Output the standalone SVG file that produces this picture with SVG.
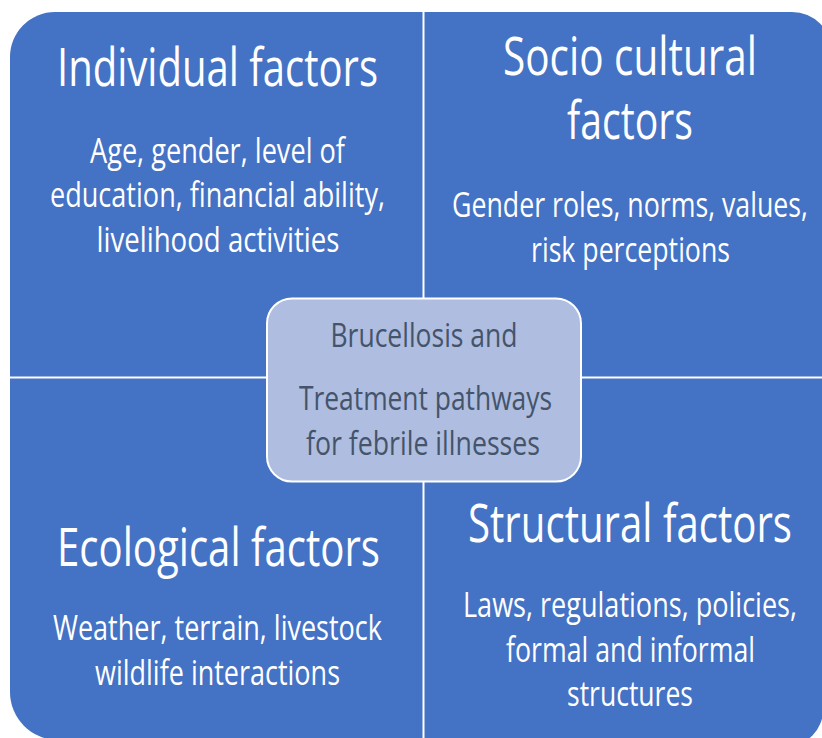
<svg xmlns="http://www.w3.org/2000/svg" width="822" height="738" viewBox="0 0 822 738">
  <style>
    .quad { fill: #4472C4; }
    .title { font-family: "Open Sans", "Noto Sans", sans-serif; font-size: 53px; fill: #FFFFFF; text-anchor: middle; }
    .body { font-family: "Open Sans", "Noto Sans", sans-serif; font-size: 34px; fill: #FFFFFF; text-anchor: middle; }
    .hub { fill: #AFBDE0; stroke: #FFFFFF; stroke-width: 2; }
    .hubtext { font-family: "Open Sans", "Noto Sans", sans-serif; font-size: 32px; fill: #44546A; text-anchor: middle; }
  </style>
  <rect width="822" height="738" fill="#FFFFFF"/>

  <!-- Top-left quadrant -->
  <g id="individual">
    <path class="quad" d="M10,57 A45,45 0 0 1 55,12 L422.5,12 L422.5,376.5 L10,376.5 Z"/>
    <text class="title" x="217.5" y="86" textLength="321" lengthAdjust="spacingAndGlyphs">Individual factors</text>
    <text class="body" x="217.5" y="163" textLength="255" lengthAdjust="spacingAndGlyphs">Age, gender, level of</text>
    <text class="body" x="217.5" y="207" textLength="335" lengthAdjust="spacingAndGlyphs">education, financial ability,</text>
    <text class="body" x="218" y="252" textLength="243" lengthAdjust="spacingAndGlyphs">livelihood activities</text>
  </g>

  <!-- Top-right quadrant -->
  <g id="sociocultural">
    <path class="quad" d="M424.5,12 L792,12 A40,40 0 0 1 832,52 L832,376.5 L424.5,376.5 Z"/>
    <text class="title" x="630" y="75" textLength="254" lengthAdjust="spacingAndGlyphs">Socio cultural</text>
    <text class="title" x="630" y="139" textLength="126" lengthAdjust="spacingAndGlyphs">factors</text>
    <text class="body" x="630" y="217" textLength="356" lengthAdjust="spacingAndGlyphs">Gender roles, norms, values,</text>
    <text class="body" x="630.5" y="262" textLength="199" lengthAdjust="spacingAndGlyphs">risk perceptions</text>
  </g>

  <!-- Bottom-left quadrant -->
  <g id="ecological">
    <path class="quad" d="M10,378.5 L422.5,378.5 L422.5,740 L58,740 A48,48 0 0 1 10,692 Z"/>
    <text class="title" x="218.5" y="566" textLength="323" lengthAdjust="spacingAndGlyphs">Ecological factors</text>
    <text class="body" x="217.5" y="640" textLength="329" lengthAdjust="spacingAndGlyphs">Weather, terrain, livestock</text>
    <text class="body" x="217.5" y="685" textLength="245" lengthAdjust="spacingAndGlyphs">wildlife interactions</text>
  </g>

  <!-- Bottom-right quadrant -->
  <g id="structural">
    <path class="quad" d="M424.5,378.5 L823,378.5 L823,710 A36,36 0 0 1 787,746 L424.5,746 Z"/>
    <text class="title" x="630" y="542" textLength="324" lengthAdjust="spacingAndGlyphs">Structural factors</text>
    <text class="body" x="630" y="617" textLength="334" lengthAdjust="spacingAndGlyphs">Laws, regulations, policies,</text>
    <text class="body" x="630.5" y="662" textLength="249" lengthAdjust="spacingAndGlyphs">formal and informal</text>
    <text class="body" x="630" y="706" textLength="126" lengthAdjust="spacingAndGlyphs">structures</text>
  </g>

  <!-- Central topic -->
  <g id="center">
    <rect class="hub" x="267" y="298.5" width="314" height="183" rx="25" ry="25"/>
    <text class="hubtext" x="424" y="346.5" textLength="187" lengthAdjust="spacingAndGlyphs">Brucellosis and</text>
    <text class="hubtext" x="425.5" y="410" textLength="253" lengthAdjust="spacingAndGlyphs">Treatment pathways</text>
    <text class="hubtext" x="423" y="455" textLength="234" lengthAdjust="spacingAndGlyphs">for febrile illnesses</text>
  </g>

  <g id="connectors"/>
</svg>
